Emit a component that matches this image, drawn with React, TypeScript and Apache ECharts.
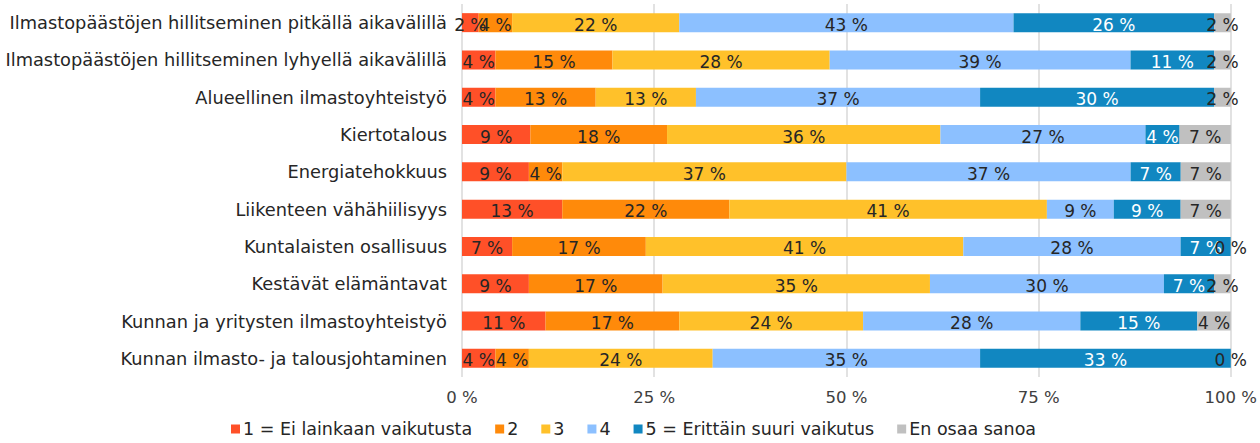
import React, { useEffect, useRef } from "react";
import * as echarts from "echarts";

const categories = [
  "Ilmastopäästöjen hillitseminen pitkällä aikavälillä",
  "Ilmastopäästöjen hillitseminen lyhyellä aikavälillä",
  "Alueellinen ilmastoyhteistyö",
  "Kiertotalous",
  "Energiatehokkuus",
  "Liikenteen vähähiilisyys",
  "Kuntalaisten osallisuus",
  "Kestävät elämäntavat",
  "Kunnan ja yritysten ilmastoyhteistyö",
  "Kunnan ilmasto- ja talousjohtaminen",
];

const seriesNames = [
  "1 = Ei lainkaan vaikutusta",
  "2",
  "3",
  "4",
  "5 = Erittäin suuri vaikutus",
  "En osaa sanoa",
];

const s1 = [2.17, 4.35, 4.35, 8.89, 8.7, 13.04, 6.52, 8.7, 10.87, 4.35];
const s2 = [4.35, 15.22, 13.04, 17.78, 4.35, 21.74, 17.39, 17.39, 17.39, 4.35];
const s3 = [21.74, 28.26, 13.04, 35.56, 36.96, 41.3, 41.3, 34.78, 23.91, 23.91];
const s4 = [43.48, 39.13, 36.96, 26.67, 36.96, 8.7, 28.26, 30.43, 28.26, 34.78];
const s5 = [26.09, 10.87, 30.43, 4.44, 6.52, 8.7, 6.52, 6.52, 15.22, 32.61];
const s6 = [2.17, 2.17, 2.17, 6.67, 6.52, 6.52, 0, 2.17, 4.35, 0];

const xTicks = [0, 25, 50, 75, 100];

const colors = ["#FF5028", "#FF8A0A", "#FFC12A", "#8CC0FF", "#1187C1", "#C0C0C0"];
const labelColors = ["#262626", "#262626", "#262626", "#262626", "#FFFFFF", "#262626"];

const FONT = "'DejaVu Sans', sans-serif";

export default function App() {
  const ref = useRef<HTMLDivElement>(null);
  useEffect(() => {
    if (!ref.current) return;
    const chart = echarts.init(ref.current, undefined, { renderer: "svg" });
    const data = [s1, s2, s3, s4, s5, s6];
    chart.setOption({
      animation: false,
      textStyle: { fontFamily: FONT },
      grid: { left: 462, right: 28, top: 4, bottom: 66, containLabel: false },
      legend: {
        top: 418,
        left: 231,
        padding: 0,
        itemWidth: 9,
        itemHeight: 9,
        itemGap: 23,
        icon: "rect",
        textStyle: { fontFamily: FONT, fontSize: 17.5, color: "#262626", padding: [0, 0, 0, -2], lineHeight: 22 },
        data: seriesNames,
      },
      xAxis: {
        type: "value",
        min: xTicks[0],
        max: xTicks[xTicks.length - 1],
        interval: 25,
        axisLine: { show: false },
        axisTick: { show: false },
        splitLine: { show: true, lineStyle: { color: "#D9D9D9", width: 1.5 } },
        axisLabel: {
          formatter: "{value} %",
          fontSize: 16.5,
          color: "#404040",
          margin: 12,
          fontFamily: FONT,
        },
      },
      yAxis: {
        type: "category",
        inverse: true,
        data: categories,
        axisLine: { show: false },
        axisTick: { show: false },
        axisLabel: { fontSize: 17.8, color: "#262626", margin: 15, fontFamily: FONT },
      },
      series: seriesNames.map((name, i) => ({
        name,
        type: "bar",
        stack: "total",
        barWidth: 19,
        itemStyle: { color: colors[i] },
        label: {
          show: true,
          position: "inside",
          formatter: (p: any) => Math.round(p.value) + " %",
          fontSize: 17,
          color: labelColors[i],
          fontFamily: FONT,
          offset: [0, 2],
        },
        data: data[i],
      })),
    });
    return () => chart.dispose();
  }, []);
  return (
    <div
      ref={ref}
      style={{ position: "absolute", left: 0, top: 0, width: 1260, height: 443, background: "#fff" }}
    />
  );
}
